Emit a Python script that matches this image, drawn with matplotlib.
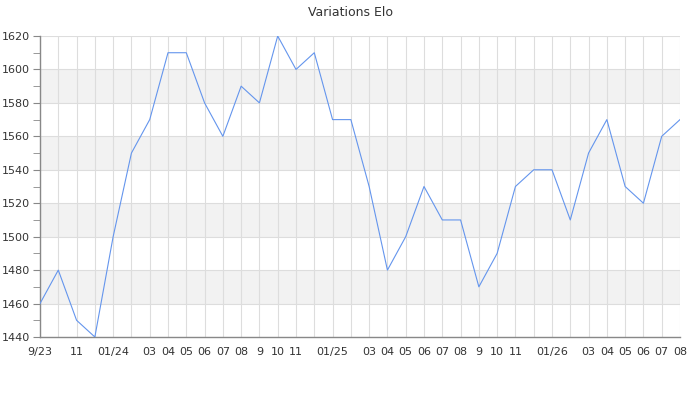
import numpy as np
import matplotlib.pyplot as plt

monthLabels = ["9/23", "", "11", "", "01/24", "", "03", "04", "05", "06", "07", "08",
               "9", "10", "11", "", "01/25", "", "03", "04", "05", "06", "07", "08",
               "9", "10", "11", "", "01/26", "", "03", "04", "05", "06", "07", "08"]
eloVals = [1460, 1480, 1450, 1440, 1500, 1550, 1570, 1610, 1610, 1580, 1560, 1590,
           1580, 1620, 1600, 1610, 1570, 1570, 1530, 1480, 1500, 1530, 1510, 1510,
           1470, 1490, 1530, 1540, 1540, 1510, 1550, 1570, 1530, 1520, 1560, 1570]
grayBands = [(1460, 1480), (1500, 1520), (1540, 1560), (1580, 1600)]

xVals = np.arange(len(eloVals))

fig = plt.figure(figsize=(7, 4), dpi=100)
ax = fig.add_axes([40 / 700, 63 / 400, 640 / 700, 301 / 400])

for lo, hi in grayBands:
    ax.axhspan(lo, hi, color="#f2f2f2", lw=0, zorder=0)

ax.plot(xVals, eloVals, color="#6495ed", lw=0.8, zorder=3)

ax.set_xlim(0, len(eloVals) - 1)
ax.set_ylim(1440, 1620)
ax.set_xticks(xVals)
ax.set_xticklabels(monthLabels)
ax.set_yticks(np.arange(1440, 1621, 20))
ax.set_yticks(np.arange(1450, 1620, 20), minor=True)

ax.grid(True, which="major", color="#dddddd", lw=0.8, zorder=1)
ax.set_axisbelow(True)
for side in ["top", "right"]:
    ax.spines[side].set_visible(False)
for side in ["left", "bottom"]:
    ax.spines[side].set_color("#888888")
    ax.spines[side].set_linewidth(1.0)

ax.tick_params(axis="x", length=0, pad=7, labelsize=8, labelcolor="#333333")
ax.tick_params(axis="y", which="major", length=5, color="#888888", labelsize=8, labelcolor="#333333", pad=2)
ax.tick_params(axis="y", which="minor", length=5, color="#888888")

fig.text(0.5, 1 - 12 / 400, "Variations Elo", ha="center", va="center", fontsize=9, color="#333333")

plt.savefig("out.png")
plt.close()
